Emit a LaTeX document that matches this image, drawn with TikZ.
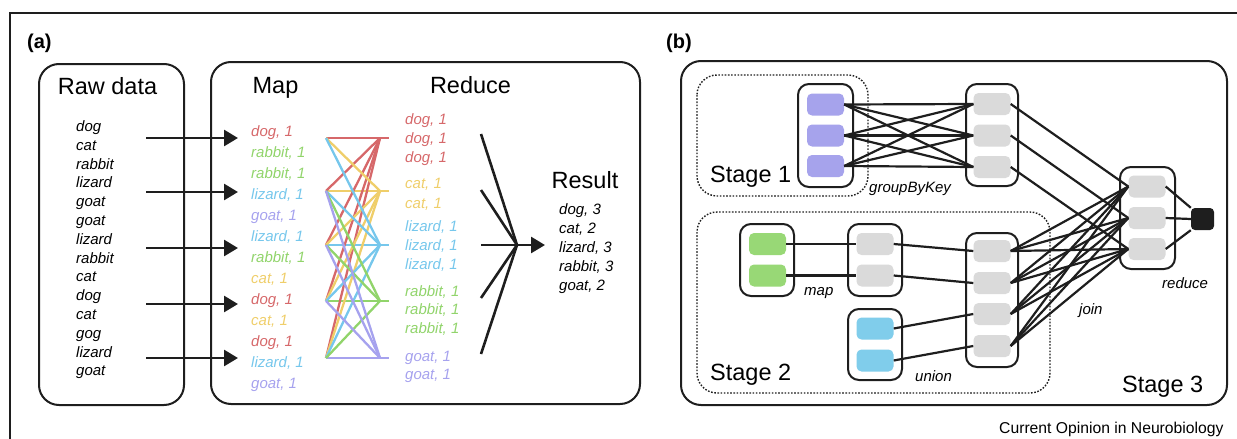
\documentclass[tikz,border=0pt]{standalone}
\usepackage{fontspec}
\setmainfont{Liberation Sans}
\usetikzlibrary{arrows.meta}

\definecolor{ink}{RGB}{30,30,30}
\definecolor{cdog}{RGB}{214,104,106}
\definecolor{crabbit}{RGB}{145,212,107}
\definecolor{clizard}{RGB}{118,199,236}
\definecolor{cgoat}{RGB}{166,162,238}
\definecolor{ccat}{RGB}{239,206,106}
\definecolor{bgrey}{RGB}{218,218,218}
\definecolor{bpurple}{RGB}{166,163,236}
\definecolor{bgreen}{RGB}{152,216,118}
\definecolor{bblue}{RGB}{128,205,235}

\tikzset{
  listtxt/.style={font=\fontsize{15}{18}\selectfont\itshape, inner sep=0, anchor=base west},
  heading/.style={font=\fontsize{23.5}{28}\selectfont, inner sep=0, anchor=base},
  panellbl/.style={font=\fontsize{20}{24}\selectfont\bfseries, inner sep=0, anchor=base west},
  opname/.style={font=\fontsize{15}{18}\selectfont\itshape, inner sep=0, anchor=base west},
  bigbox/.style={draw=ink, line width=2, rounded corners=20},
  stagebox/.style={draw=ink, line width=1.4, dash pattern=on 1.6pt off 1.6pt, rounded corners=20},
  container/.style={draw=ink, line width=2, rounded corners=11, fill=white, inner sep=0},
  blk/.style={rounded corners=5, minimum width=37, minimum height=22, inner sep=0},
  wire/.style={draw=ink, line width=2.2},
  feed/.style={draw=ink, line width=2.6, -{Triangle[length=14pt,width=16pt]}},
  cross/.style={line width=2.3},
}

\begin{document}
\begin{tikzpicture}[x=1pt,y=-1pt]
\useasboundingbox (0,0) rectangle (1237,439);

% figure frame
\draw[ink, line width=1.4] (1237,13) -- (10,13) -- (10,439);

% ---------------- panel (a): MapReduce ----------------
\node[panellbl] (la) at (27,48) {(a)};

\draw[bigbox] (39,64) rectangle (184,405);
\draw[bigbox] (211,62) rectangle (640,404);

\node[heading] (rawttl) at (107.5,94) {Raw data};
\node[heading] (mapttl) at (275.5,93) {Map};
\node[heading] (redttl) at (470.5,93) {Reduce};
\node[heading] (resttl) at (585,188) {Result};

% raw input words
\foreach \w [count=\i from 0] in {dog,cat,rabbit,lizard,goat,goat,lizard,rabbit,cat,dog,cat,gog,lizard,goat}
  \node[listtxt] (raw\i) at (76,131.5+18.8*\i) {\w};

% emitted key/value pairs
\foreach \w/\c [count=\i from 0] in {dog/cdog,rabbit/crabbit,rabbit/crabbit,lizard/clizard,goat/cgoat,lizard/clizard,rabbit/crabbit,cat/ccat,dog/cdog,cat/ccat,dog/cdog,lizard/clizard,goat/cgoat}
  \node[listtxt, text=\c] (map\i) at (251,136.5+21*\i) {\w, 1};

% grouped pairs
\foreach \w/\c/\y [count=\i] in {dog/cdog/120,dog/cdog/139,dog/cdog/158,cat/ccat/184,cat/ccat/204,lizard/clizard/227,lizard/clizard/246,lizard/clizard/265,rabbit/crabbit/292,rabbit/crabbit/310,rabbit/crabbit/329,goat/cgoat/357,goat/cgoat/375}
  \node[listtxt, text=\c] (red\i) at (405,\y+4.5) {\w, 1};

% final counts
\foreach \w/\y [count=\i] in {{dog, 3}/210,{cat, 2}/229,{lizard, 3}/248,{rabbit, 3}/267,{goat, 2}/286}
  \node[listtxt] (res\i) at (559,\y+4.5) {\w};

% input splits fed to the mappers
\foreach \y [count=\i] in {138,192,248,304,358} {
  \coordinate (src\i) at (146,\y);
  \coordinate (dst\i) at (238,\y);
  \draw[feed] (src\i) -- (dst\i);
}

% shuffle: mapper outputs to reducer inputs
\foreach \i/\y in {1/138,2/191,3/245,4/301,5/358} {
  \coordinate (L\i) at (326,\y);
  \coordinate (R\i) at (380,\y);
  \coordinate (E\i) at (389,\y);
}
\draw[cross, cdog] (L1) -- (E1);
\draw[cross, ccat] (L2) -- (E2);
\draw[cross, clizard] (L3) -- (E3);
\draw[cross, crabbit] (L4) -- (E4);
\draw[cross, cgoat] (L5) -- (E5);
\foreach \a in {2,3,4,5} \draw[cross, cdog] (L\a) -- (R1);
\foreach \a in {1,3,4,5} \draw[cross, ccat] (L\a) -- (R2);
\foreach \a in {1,2,4,5} \draw[cross, clizard] (L\a) -- (R3);
\foreach \a in {2,3,5} \draw[cross, crabbit] (L\a) -- (R4);
\foreach \a in {2,3,4} \draw[cross, cgoat] (L\a) -- (R5);

% reducers merging into the result
\coordinate (join) at (517,245);
\coordinate (outtip) at (545,245);
\foreach \y [count=\i] in {134,190,245,298,354} {
  \coordinate (F\i) at (481,\y);
  \draw[ink, line width=2.6] (F\i) -- (join);
}
\draw[feed] (F3) -- (outtip);

% ---------------- panel (b): staged dataflow ----------------
\node[panellbl] (lb) at (666,48) {(b)};

\draw[bigbox] (681,61) rectangle (1227,405);
\draw[stagebox] (697,75) rectangle (868,196);
\draw[stagebox] (697,212) rectangle (1050,393);

\node[heading, anchor=base west] (st1) at (710,182) {Stage 1};
\node[heading, anchor=base west] (st2) at (710,380) {Stage 2};
\node[heading, anchor=base west] (st3) at (1122,392) {Stage 3};

% containers
\node[container, minimum width=55, minimum height=103] (P) at (825.5,135.5) {};
\node[container, minimum width=52, minimum height=102] (G) at (992,135) {};
\node[container, minimum width=54, minimum height=72] (Gr) at (767,260) {};
\node[container, minimum width=54, minimum height=72] (M) at (875,260) {};
\node[container, minimum width=54, minimum height=71] (U) at (875,344.5) {};
\node[container, minimum width=52, minimum height=134] (J) at (992,300) {};
\node[container, minimum width=55, minimum height=102] (Rd) at (1147.5,218) {};

% partitions
\foreach \y [count=\i] in {104.5,135.5,166} \node[blk, fill=bpurple] (p\i) at (825.5,\y) {};
\foreach \y [count=\i] in {104,135.5,167} \node[blk, fill=bgrey] (g\i) at (992,\y) {};
\foreach \y [count=\i] in {244,275.5} \node[blk, fill=bgreen] (n\i) at (767.5,\y) {};
\foreach \y [count=\i] in {244,275.5} \node[blk, fill=bgrey] (m\i) at (875,\y) {};
\foreach \y [count=\i] in {328.5,360.5} \node[blk, fill=bblue] (u\i) at (875,\y) {};
\foreach \y [count=\i] in {251,283,314,346} \node[blk, fill=bgrey] (j\i) at (992,\y) {};
\foreach \y [count=\i] in {186.5,218,249} \node[blk, fill=bgrey] (r\i) at (1147,\y) {};
\node[fill=ink, rounded corners=4, minimum width=23, minimum height=22, inner sep=0] (sink) at (1202.5,219) {};

% groupByKey shuffle
\foreach \a in {1,2,3} \foreach \b in {1,2,3} \draw[wire] (p\a.east) -- (g\b.west);
% map
\draw[wire] (n1.east) -- (m1.west);
\draw[wire] (n2.east) -- (m2.west);
% union
\draw[wire] (m1.east) -- (j1.west);
\draw[wire] (m2.east) -- (j2.west);
\draw[wire] (u1.east) -- (j3.west);
\draw[wire] (u2.east) -- (j4.west);
% join
\foreach \a in {1,2,3,4} \foreach \b in {1,2,3} \draw[wire] (j\a.east) -- (r\b.west);
\foreach \a in {1,2,3} \draw[wire] (g\a.east) -- (r\a.west);
% reduce
\draw[wire] (r1.east) -- (sink.north west);
\draw[wire] (r2.east) -- (sink.west);
\draw[wire] (r3.east) -- (sink.south west);

% operation labels
\node[opname] (opg) at (869,192) {groupByKey};
\node[opname] (opm) at (804,295) {map};
\node[opname] (opu) at (915,381) {union};
\node[opname] (opj) at (1079,314) {join};
\node[opname] (opr) at (1162,288) {reduce};

\node[font=\fontsize{15.7}{18}\selectfont, inner sep=0, anchor=base west] (src) at (999,433) {Current Opinion in Neurobiology};
\end{tikzpicture}
\end{document}
